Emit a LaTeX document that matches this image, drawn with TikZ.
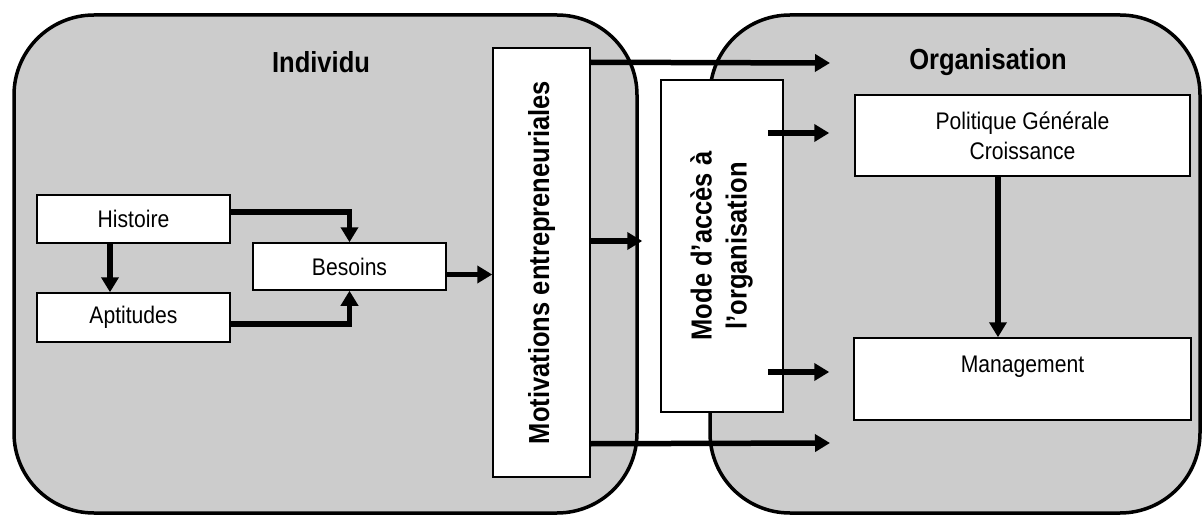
\documentclass[tikz,border=0pt]{standalone}
\usepackage{fontspec}
\setmainfont{Liberation Sans}[FakeStretch=0.88]
\usetikzlibrary{arrows.meta}
\definecolor{regionfill}{gray}{0.80}
\begin{document}
\begin{tikzpicture}[x=1pt,y=-1pt,
  box/.style={draw=black, line width=1.5pt, fill=white, inner sep=0pt, font=\fontsize{24}{30}\selectfont, align=center},
  region/.style={draw=black, line width=3.5pt, fill=regionfill, rounded corners=80pt},
  flow/.style={line width=5.5pt, -{Triangle[length=15pt,width=17pt]}},
  title/.style={font=\bfseries\fontsize{29}{35}\selectfont}]
\useasboundingbox (0,0) rectangle (1203,516);
\draw[region] (14,15) rectangle (637,513);
\draw[region] (710,15) rectangle (1200,513);

\node[title] (ind) at (321,62) {Individu};
\node[title] (org) at (988,62) {Organisation};

\node[box, minimum width=193, minimum height=48] (hist) at (133.5,219) {Histoire};
\node[box, minimum width=193, minimum height=49] (apt) at (133.5,317.5) {Aptitudes};
\node[box, minimum width=193, minimum height=47] (bes) at (349.5,266.5) {Besoins};
\node[box, minimum width=97, minimum height=429] (mot) at (541.5,262.5)
  {\rotatebox{90}{\bfseries\fontsize{29}{35}\selectfont Motivations entrepreneuriales}};
\node[box, minimum width=122, minimum height=332] (mode) at (722,246)
  {\rotatebox{90}{\bfseries\fontsize{29}{35}\selectfont\begin{tabular}{@{}c@{}}Mode d’accès à\\l’organisation\end{tabular}}};
\node[box, minimum width=335, minimum height=81] (pol) at (1022.5,135.5) {Politique Générale\\Croissance};
\node[box, minimum width=337, minimum height=82] (man) at (1022.5,379) {Management\\\mbox{}};

% left side connectors
\draw[flow] ([xshift=-23.5pt]hist.south) -- ([xshift=-23.5pt]apt.north);
\draw[flow] ([yshift=7pt]hist.east) -| (bes.north);
\draw[flow] ([yshift=-6.5pt]apt.east) -| (bes.south);
\coordinate (b1) at ([yshift=-8pt]bes.east);
\draw[flow] (b1) -- (b1 -| mot.west);

% from motivations
\coordinate (m1) at ([yshift=-15pt]mot.north east);
\coordinate (t1) at (830,63);
\draw[flow] (m1) -- (t1);
\coordinate (m2) at ([yshift=21.5pt]mot.east);
\draw[flow, shorten >=18pt] (m2) -- (m2 -| mode.west);
\coordinate (m3) at ([yshift=34pt]mot.south east);
\coordinate (t3) at (830,443);
\draw[flow] (m3) -- (t3);

% from mode d'acces
\coordinate (p1) at (mode.east |- pol.west);
\coordinate (p2) at ([yshift=2.5pt]p1);
\coordinate (pt) at ([yshift=2.5pt]pol.west);
\draw[flow, shorten >=25pt] ([xshift=-16pt]p2) -- (pt);
\coordinate (q1) at (mode.east |- man.west);
\coordinate (q2) at ([yshift=7pt]q1);
\coordinate (qt) at ([yshift=7pt]man.west);
\draw[flow, shorten >=24pt] ([xshift=-16pt]q2) -- (qt);

% politique -> management
\draw[flow] ([xshift=-24.5pt]pol.south) -- ([xshift=-24.5pt]man.north);
\end{tikzpicture}
\end{document}
